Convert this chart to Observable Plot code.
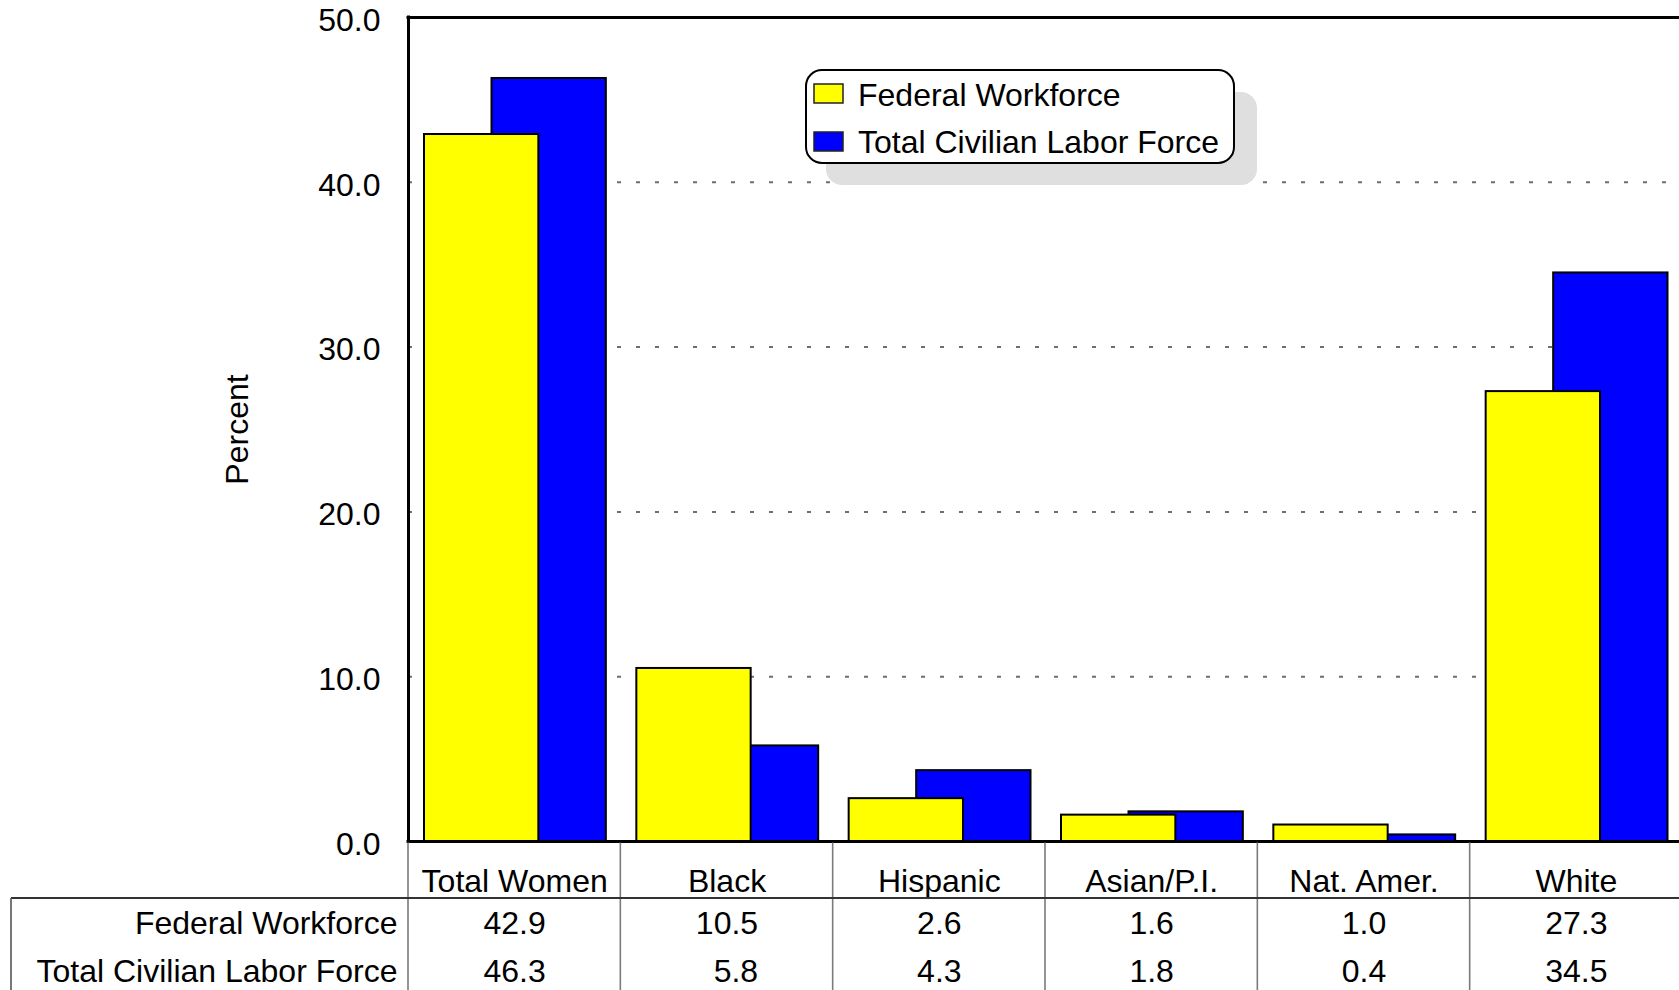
<!DOCTYPE html>
<html><head><meta charset="utf-8">
<script src="https://cdn.jsdelivr.net/npm/d3@7"></script>
<script src="https://cdn.jsdelivr.net/npm/@observablehq/plot@0.6"></script>
<style>html,body{margin:0;padding:0;background:#fff;} svg{display:block}</style>
</head><body><div id="chart"></div>
<script>
const categories = ["Total Women", "Black", "Hispanic", "Asian/P.I.", "Nat. Amer.", "White"];
const federalWorkforce = [42.9, 10.5, 2.6, 1.6, 1.0, 27.3];
const civilianLaborForce = [46.3, 5.8, 4.3, 1.8, 0.4, 34.5];
const seriesNames = ["Federal Workforce", "Total Civilian Labor Force"];
const seriesColors = ["#ffff00", "#0000ff"];
const yTicks = [0, 10, 20, 30, 40, 50];
const gridValues = [10, 20, 30, 40];
const yLabel = "Percent";

const fmt = d3.format(".1f");
const data = categories.map((c, i) => {
  const a = fmt(federalWorkforce[i]), b = fmt(civilianLaborForce[i]);
  const n = Math.max(a.length, b.length);
  return {i, cat: c, fed: federalWorkforce[i], clf: civilianLaborForce[i],
          fedText: a.padStart(n, "\u2007"), clfText: b.padStart(n, "\u2007")};
});

const FONT = '"Liberation Sans", Arial, Helvetica, sans-serif';
const W = 1679, H = 990, LEFT = 408, TOP = 17, BOTTOM = 841, RIGHT = 1682;

const cell = {frameAnchor: "bottom", lineAnchor: "middle", textAnchor: "middle", fontSize: 32};
const rowLabel = {frameAnchor: "bottom-left", lineAnchor: "middle", textAnchor: "end", dx: -11, fontSize: 32};

const chart = Plot.plot({
  width: W, height: H,
  marginLeft: LEFT, marginTop: TOP, marginBottom: H - BOTTOM, marginRight: 0,
  style: {fontFamily: FONT, fontSize: "32px", background: "white", color: "black", overflow: "visible"},
  x: {type: "linear", domain: [0, categories.length], range: [LEFT, RIGHT], axis: null},
  y: {domain: [0, 50], range: [BOTTOM, TOP], axis: null},
  marks: [
    Plot.ruleY(gridValues, {stroke: "#6e6e6e", strokeWidth: 2, strokeDasharray: "4,15"}),
    Plot.rect(data, {x1: "i", x2: d => d.i + 1, y1: 0, y2: "clf", fill: seriesColors[1], stroke: "black", strokeWidth: 2, insetLeft: 83.5, insetRight: 14.5}),
    Plot.rect(data, {x1: "i", x2: d => d.i + 1, y1: 0, y2: "fed", fill: seriesColors[0], stroke: "black", strokeWidth: 2, insetLeft: 16, insetRight: 82}),
    Plot.ruleX([0], {y1: 0, y2: 50, stroke: "black", strokeWidth: 3, strokeLinecap: "square"}),
    Plot.ruleY([0, 50], {stroke: "black", strokeWidth: 3, strokeLinecap: "square"}),
    Plot.axisY(yTicks, {tickSize: 0, tickPadding: 28, tickFormat: fmt, fontSize: 32, dy: 3, label: null}),
    Plot.text([yLabel], {text: d => d, frameAnchor: "left", textAnchor: "middle", lineAnchor: "middle", rotate: -90, dx: -171, fontSize: 32}),
    Plot.text(data, {x: d => d.i + 0.5, text: "cat", dy: 40, ...cell}),
    Plot.text(data, {x: d => d.i + 0.5, text: "fedText", dy: 82, ...cell}),
    Plot.text(data, {x: d => d.i + 0.5, text: "clfText", dy: 130, ...cell}),
    Plot.text([seriesNames[0]], {text: d => d, dy: 82, ...rowLabel}),
    Plot.text([seriesNames[1]], {text: d => d, dy: 130, ...rowLabel})
  ]
});
document.getElementById("chart").appendChild(chart);

// Table grid lines (positioned with the plot's x scale)
const svg = d3.select(chart);
const xs = chart.scale("x");
const tbl = svg.append("g").attr("fill", "none");
d3.range(categories.length + 1).forEach(k => {
  const x = xs.apply(k);
  tbl.append("line").attr("x1", x).attr("x2", x).attr("y1", BOTTOM + 1.5).attr("y2", H)
    .attr("stroke", "#7a7a7a").attr("stroke-width", 1.6);
});
tbl.append("line").attr("x1", 11).attr("x2", W).attr("y1", 898).attr("y2", 898)
  .attr("stroke", "#333").attr("stroke-width", 2);
tbl.append("line").attr("x1", 11).attr("x2", 11).attr("y1", 898).attr("y2", H)
  .attr("stroke", "#555").attr("stroke-width", 1.6);

// Legend
const lg = svg.append("g").attr("text-anchor", "start");
lg.append("rect").attr("x", 826).attr("y", 92).attr("width", 431).attr("height", 93).attr("rx", 16)
  .attr("fill", "#dfdfdf");
lg.append("rect").attr("x", 806).attr("y", 70).attr("width", 428).attr("height", 93).attr("rx", 16)
  .attr("fill", "white").attr("stroke", "black").attr("stroke-width", 2);
seriesNames.forEach((name, k) => {
  lg.append("rect").attr("x", 814).attr("y", 84 + k * 48).attr("width", 29).attr("height", 19)
    .attr("fill", seriesColors[k]).attr("stroke", "#222").attr("stroke-width", 1.5);
  lg.append("text").attr("x", 858).attr("y", 106 + k * 47).attr("font-family", FONT).attr("font-size", 32)
    .attr("text-anchor", "start").attr("fill", "black").text(name);
});
</script>
</body></html>
